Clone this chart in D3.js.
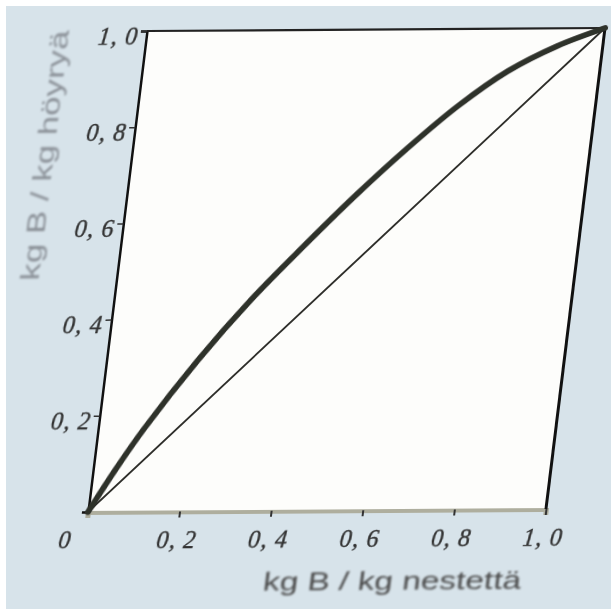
<!DOCTYPE html>
<html>
<head>
<meta charset="utf-8">
<script src="https://cdn.jsdelivr.net/npm/d3@7"></script>
<style>
  body { margin: 0; background: #fff; }
</style>
</head>
<body>
<svg id="chart"></svg>
<script>
// equilibrium curve
const liquidX = [0, 0.05, 0.1, 0.2, 0.3, 0.4, 0.5, 0.6, 0.7, 0.8, 0.9, 1.0];
const vapourY = [0, 0.09, 0.172, 0.315, 0.44, 0.55, 0.655, 0.752, 0.84, 0.912, 0.963, 1.0];
const diagonal = [0, 1];
const tickValues = [0.2, 0.4, 0.6, 0.8, 1.0];
const xTitle = "kg B / kg nestettä";
const yTitle = "kg B / kg höyryä";

const width = 611, height = 615;
const W = 458, H = 481; // plot size before the photo skew
const svg = d3.select("#chart").attr("width", width).attr("height", height);

const defs = svg.append("defs");
defs.append("filter").attr("id", "soft")
    .append("feGaussianBlur").attr("stdDeviation", 0.6);
defs.append("filter").attr("id", "blurry")
    .append("feGaussianBlur").attr("stdDeviation", 1.3);

// page background
svg.append("rect").attr("width", width).attr("height", height).attr("fill", "#fff");
svg.append("rect")
   .attr("x", 6).attr("y", 6)
   .attr("width", width - 6).attr("height", height - 12)
   .attr("fill", "#d7e3ea");

// the photo is slanted, so the whole plot sits in a skewed group
const g = svg.append("g")
    .attr("transform", "matrix(1,-0.00655,-0.1227,1,147,31)");

const x = d3.scaleLinear().domain([0, 1]).range([0, W]);
const y = d3.scaleLinear().domain([0, 1]).range([H, 0]);

g.append("rect").attr("width", W).attr("height", H).attr("fill", "#fdfdfb");

const fmt = d => d3.format(".1f")(d).replace(".", ", ");
const labelFont = "Liberation Serif, DejaVu Serif, serif";

// bottom axis (greyish, blurred in the photo)
const xAxis = g.append("g")
    .attr("transform", `translate(0,${H})`)
    .call(d3.axisBottom(x).tickValues(tickValues).tickSize(6).tickPadding(14).tickFormat(fmt));
xAxis.select(".domain").attr("stroke", "#aeae9e").attr("stroke-width", 5).attr("filter", "url(#soft)");
xAxis.selectAll(".tick line").attr("stroke", "#333").attr("stroke-width", 2);

const yAxis = g.append("g")
    .call(d3.axisLeft(y).tickValues(tickValues).tickSize(6).tickPadding(2).tickFormat(fmt));
yAxis.select(".domain").attr("stroke", "#111").attr("stroke-width", 2.5);
yAxis.selectAll(".tick line").attr("stroke", "#333").attr("stroke-width", 1.5);

[xAxis, yAxis].forEach(a => a.selectAll("text")
    .attr("font-family", labelFont)
    .attr("font-style", "italic")
    .attr("font-size", 24)
    .attr("letter-spacing", 1)
    .attr("stroke", "#333").attr("stroke-width", 0.4)
    .attr("fill", "#333")
    .attr("filter", "url(#soft)"));
yAxis.selectAll("text").attr("dy", "0.55em");

// top and right frame
g.append("line").attr("x1", x(0)).attr("x2", x(1)).attr("y1", y(1)).attr("y2", y(1))
 .attr("stroke", "#222").attr("stroke-width", 2.2);
g.append("line").attr("x1", x(1)).attr("x2", x(1)).attr("y1", y(0)).attr("y2", y(1))
 .attr("stroke", "#111").attr("stroke-width", 3);

// corner zero
g.append("text")
 .attr("x", x(0) - 20).attr("y", y(0) + 36)
 .attr("text-anchor", "middle")
 .attr("font-family", labelFont)
 .attr("font-style", "italic")
 .attr("font-size", 24)
 .attr("stroke", "#333").attr("stroke-width", 0.4)
 .attr("fill", "#333")
 .attr("filter", "url(#soft)")
 .text("0");

// diagonal y = x
const line = d3.line().x(d => x(d[0])).y(d => y(d[1]));
g.append("path")
 .attr("d", line(diagonal.map(d => [d, d])))
 .attr("fill", "none").attr("stroke", "#2e2e2a").attr("stroke-width", 2);

// equilibrium curve
const curve = d3.line().x(d => x(d[0])).y(d => y(d[1])).curve(d3.curveCatmullRom);
g.append("path")
 .attr("d", curve(liquidX.map((d, i) => [d, vapourY[i]])))
 .attr("fill", "none").attr("stroke", "#2f302b").attr("stroke-width", 6)
 .attr("stroke-linecap", "round")
 .attr("filter", "url(#soft)");

// axis titles
g.append("text")
 .attr("x", 313).attr("y", H + 80)
 .attr("text-anchor", "middle")
 .attr("font-family", "Liberation Sans, Arial, sans-serif")
 .attr("font-size", 26)
 .attr("textLength", 258).attr("lengthAdjust", "spacingAndGlyphs")
 .attr("fill", "#4a4a4a")
 .attr("filter", "url(#blurry)")
 .text(xTitle);

g.append("text")
 .attr("transform", "translate(-78,124) rotate(-90)")
 .attr("text-anchor", "middle")
 .attr("font-family", "Liberation Sans, Arial, sans-serif")
 .attr("font-size", 26)
 .attr("textLength", 250).attr("lengthAdjust", "spacingAndGlyphs")
 .attr("fill", "#8a9097")
 .attr("filter", "url(#blurry)")
 .text(yTitle);
</script>
</body>
</html>
